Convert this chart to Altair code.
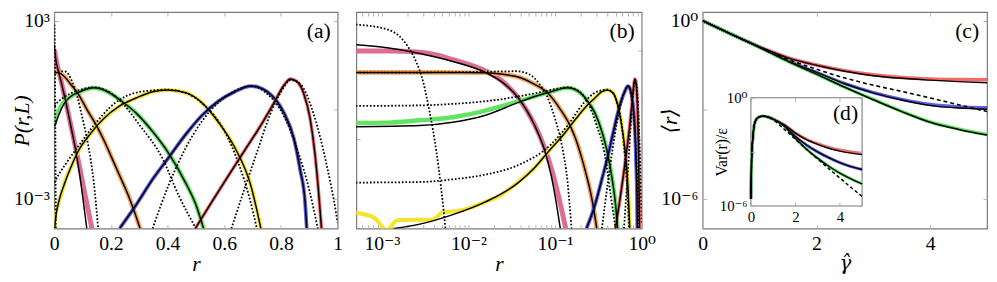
import altair as alt
import pandas as pd

FONT = "Liberation Serif, DejaVu Serif, serif"
GFONT = "DejaVu Serif, Liberation Serif, serif"
W_A, W_B, W_C, H = 288, 290, 289, 220
TICK_COLOR = "#b0b0b0"
FRAME_COLOR = "#7a7a7a"

CURVES = ["pink", "orange", "green", "yellow", "blue", "red"]
COLORS = ["#dd6d94", "#f6a65f", "#62e462", "#f3e42e", "#5d5de6", "#f26a6a"]
WIDTHS = [5.0, 3.5, 3.5, 3.5, 3.5, 3.5]

# ---------------- panels (a) and (b): r and log10 P(r,L)
PINK_R = [0.0005, 0.00115, 0.00275, 0.0043, 0.0066, 0.0157, 0.0243, 0.0377, 0.058, 0.076, 0.090, 0.107, 0.133]
PINK_LOG = [1.98, 1.98, 1.94, 1.85, 1.69, 1.31, 0.97, 0.40, -0.50, -1.30, -1.95, -2.78, -4.00]
ORANGE_R = [0.0005, 0.005, 0.015, 0.025, 0.04, 0.058, 0.08, 0.116, 0.15, 0.174, 0.2, 0.231, 0.26, 0.278, 0.303]
ORANGE_LOG = [1.26, 1.26, 1.25, 1.20, 1.08, 0.86, 0.60, 0.00, -0.55, -1.00, -1.55, -2.22, -2.85, -3.30, -4.00]
GREEN_R = [0.0005, 0.00115, 0.00275, 0.0066, 0.0157, 0.0243, 0.0377, 0.058, 0.09, 0.139, 0.19, 0.231, 0.29, 0.347, 0.405, 0.463, 0.5, 0.527]
GREEN_LOG = [-0.44, -0.43, -0.35, -0.25, -0.03, 0.13, 0.29, 0.45, 0.61, 0.74, 0.60, 0.34, -0.12, -0.73, -1.48, -2.45, -3.20, -4.00]
YELLOW_R = [0.0005, 0.00081, 0.00115, 0.0015, 0.0039, 0.0051, 0.0066, 0.0086, 0.0157, 0.0243, 0.0377, 0.058, 0.09, 0.116, 0.174, 0.231, 0.289, 0.347, 0.399, 0.463, 0.521, 0.579, 0.637, 0.694, 0.729]
YELLOW_LOG = [-3.47, -3.63, -4.05, -3.72, -3.69, -3.44, -3.42, -3.37, -3.10, -2.85, -2.42, -1.95, -1.30, -0.95, -0.30, 0.13, 0.40, 0.61, 0.67, 0.58, 0.24, -0.41, -1.27, -2.56, -3.99]
BLUE_R = [0.231, 0.289, 0.347, 0.405, 0.463, 0.521, 0.579, 0.637, 0.694, 0.718, 0.752, 0.810, 0.845, 0.868, 0.885, 0.891]
BLUE_LOG = [-3.99, -3.20, -2.34, -1.59, -0.84, -0.19, 0.29, 0.61, 0.80, 0.77, 0.61, -0.09, -0.95, -2.03, -3.10, -3.99]
RED_R = [0.498, 0.556, 0.613, 0.671, 0.729, 0.775, 0.810, 0.833, 0.856, 0.880, 0.903, 0.920, 0.932, 0.943]
RED_LOG = [-3.99, -3.10, -2.24, -1.38, -0.52, 0.23, 0.82, 1.04, 0.96, 0.56, -0.30, -1.48, -2.67, -3.99]

# black solid (theory) where it departs from the coloured data
PINK_FIT_R = [0.0005, 0.00115, 0.00275, 0.0066, 0.0157, 0.0243, 0.0377, 0.058, 0.076, 0.090, 0.100, 0.115]
PINK_FIT_LOG = [2.19, 2.09, 1.90, 1.63, 1.26, 0.94, 0.40, -0.52, -1.38, -2.20, -2.90, -4.00]
GREEN_FIT_R = [0.0005, 0.00275, 0.0066, 0.0157, 0.0377, 0.058, 0.09, 0.139, 0.19, 0.231, 0.29, 0.347, 0.405, 0.463, 0.5, 0.527]
GREEN_FIT_LOG = [-0.57, -0.53, -0.42, -0.18, 0.25, 0.45, 0.61, 0.74, 0.60, 0.34, -0.12, -0.73, -1.48, -2.45, -3.20, -4.00]
YELLOW_FIT_R = [0.00137, 0.00275, 0.0066, 0.0157, 0.0377, 0.058, 0.09, 0.116, 0.174, 0.231, 0.289, 0.347, 0.399, 0.463, 0.521, 0.579, 0.637, 0.694, 0.729]
YELLOW_FIT_LOG = [-4.0, -3.85, -3.53, -3.10, -2.45, -1.95, -1.30, -0.95, -0.30, 0.13, 0.40, 0.61, 0.67, 0.58, 0.24, -0.41, -1.27, -2.56, -3.99]

# black dotted approximations
DOT_PINK_R = [0.0005, 0.00115, 0.00178, 0.00212, 0.00252, 0.0030, 0.00357, 0.00425, 0.00485, 0.00543]
DOT_PINK_LOG = [2.87, 2.71, 2.33, 2.01, 1.58, 0.94, -0.09, -1.38, -2.67, -3.99]
DOT_ORANGE_R = [0.0005, 0.005, 0.02, 0.035, 0.05, 0.065, 0.081, 0.1, 0.12, 0.139, 0.155]
DOT_ORANGE_LOG = [1.25, 1.26, 1.29, 1.30, 1.20, 0.90, 0.45, -0.30, -1.20, -2.40, -4.00]
DOT_GREEN_R = [0.0005, 0.0028, 0.0066, 0.0157, 0.0377, 0.064, 0.1, 0.14, 0.19, 0.243, 0.3, 0.38, 0.44, 0.5]
DOT_GREEN_LOG = [0.13, 0.15, 0.20, 0.29, 0.45, 0.58, 0.70, 0.76, 0.62, 0.20, -0.50, -1.60, -2.90, -4.00]
DOT_YELLOW_R = [0.0005, 0.0028, 0.0066, 0.0157, 0.0377, 0.09, 0.14, 0.216, 0.3, 0.4, 0.47, 0.53, 0.6, 0.65, 0.69, 0.715]
DOT_YELLOW_LOG = [-2.45, -2.43, -2.34, -2.18, -1.86, -1.16, -0.52, 0.24, 0.60, 0.68, 0.55, 0.15, -0.70, -1.80, -3.00, -4.00]
DOT_BLUE_R = [0.347, 0.405, 0.463, 0.52, 0.58, 0.64, 0.694, 0.75, 0.81, 0.86, 0.9, 0.93]
DOT_BLUE_LOG = [-4.0, -2.5, -1.3, -0.4, 0.25, 0.65, 0.80, 0.55, -0.2, -1.4, -2.7, -4.0]
DOT_RED_R = [0.625, 0.67, 0.72, 0.76, 0.8, 0.835, 0.87, 0.914, 0.96, 0.995, 1.0]
DOT_RED_LOG = [-4.0, -2.7, -1.3, -0.2, 0.6, 1.0, 0.85, -0.1, -1.8, -3.5, -3.8]

# ---------------- panel (c): <r> vs gamma-hat (log10 values)
GAMMA = [0, 0.5, 1, 1.5, 2, 2.5, 3, 3.5, 4, 4.5, 5]
MEAN_RED_LOG = [0, -0.45, -0.88, -1.24, -1.49, -1.68, -1.82, -1.91, -1.96, -1.98, -1.99]
MEAN_RED_FIT_LOG = [0, -0.45, -0.88, -1.25, -1.50, -1.70, -1.85, -1.94, -2.00, -2.05, -2.09]
MEAN_BLUE_LOG = [0, -0.45, -0.89, -1.35, -1.74, -2.12, -2.42, -2.65, -2.82, -2.90, -2.93]
MEAN_BLUE_FIT_LOG = [0, -0.45, -0.89, -1.35, -1.74, -2.12, -2.43, -2.67, -2.85, -2.94, -2.98]
MEAN_GREEN_LOG = [0, -0.45, -0.90, -1.37, -1.80, -2.24, -2.65, -3.05, -3.41, -3.64, -3.83]
MEAN_GREEN_FIT_LOG = [0, -0.45, -0.90, -1.37, -1.80, -2.24, -2.66, -3.06, -3.42, -3.66, -3.85]
MEAN_DASH_LOG = [0, -0.45, -0.89, -1.30, -1.63, -1.93, -2.17, -2.38, -2.60, -2.83, -3.06]

# ---------------- inset (d): Var(r)/eps vs gamma-hat (log10 values)
VAR_GAMMA = [0, 0.03, 0.1, 0.18, 0.33, 0.55, 0.8, 1.0, 1.5, 2.0, 2.5, 3.0, 3.5, 4.0, 4.5, 5.0]
VAR_RED_LOG = [-5.6, -3.5, -2.06, -1.36, -1.09, -1.02, -1.08, -1.18, -1.50, -1.95, -2.30, -2.55, -2.75, -2.90, -3.00, -3.08]
VAR_RED_FIT_LOG = [-5.6, -3.5, -2.06, -1.36, -1.09, -1.02, -1.08, -1.18, -1.50, -1.96, -2.32, -2.58, -2.80, -2.96, -3.07, -3.15]
VAR_BLUE_LOG = [-5.6, -3.5, -2.06, -1.36, -1.09, -1.02, -1.08, -1.18, -1.55, -2.15, -2.62, -3.00, -3.32, -3.60, -3.82, -3.98]
VAR_GREEN_LOG = [-5.6, -3.5, -2.06, -1.36, -1.09, -1.02, -1.08, -1.19, -1.58, -2.25, -2.85, -3.35, -3.80, -4.18, -4.50, -4.78]
VAR_DASH_LOG = [-5.6, -3.5, -2.06, -1.36, -1.09, -1.02, -1.08, -1.22, -1.75, -2.30, -2.85, -3.40, -3.93, -4.45, -4.97, -5.47]


def long(items):
    rows = []
    for name, xs, logs in items:
        for x, v in zip(xs, logs):
            rows.append({"curve": name, "x": x, "v": 10.0 ** v})
    return pd.DataFrame(rows)


df_col = long([("pink", PINK_R, PINK_LOG), ("orange", ORANGE_R, ORANGE_LOG),
               ("green", GREEN_R, GREEN_LOG), ("yellow", YELLOW_R, YELLOW_LOG),
               ("blue", BLUE_R, BLUE_LOG), ("red", RED_R, RED_LOG)])
df_fit = long([("pink", PINK_FIT_R, PINK_FIT_LOG), ("orange", ORANGE_R, ORANGE_LOG),
               ("green", GREEN_FIT_R, GREEN_FIT_LOG), ("yellow", YELLOW_FIT_R, YELLOW_FIT_LOG),
               ("blue", BLUE_R, BLUE_LOG), ("red", RED_R, RED_LOG)])
df_dot = long([("pink", DOT_PINK_R, DOT_PINK_LOG), ("orange", DOT_ORANGE_R, DOT_ORANGE_LOG),
               ("green", DOT_GREEN_R, DOT_GREEN_LOG), ("yellow", DOT_YELLOW_R, DOT_YELLOW_LOG),
               ("blue", DOT_BLUE_R, DOT_BLUE_LOG), ("red", DOT_RED_R, DOT_RED_LOG)])

df_c_col = long([("red", GAMMA, MEAN_RED_LOG), ("blue", GAMMA, MEAN_BLUE_LOG), ("green", GAMMA, MEAN_GREEN_LOG)])
df_c_fit = long([("red", GAMMA, MEAN_RED_FIT_LOG), ("blue", GAMMA, MEAN_BLUE_FIT_LOG), ("green", GAMMA, MEAN_GREEN_FIT_LOG)])
df_c_dash = long([("dash", GAMMA, MEAN_DASH_LOG)])
df_d_col = long([("red", VAR_GAMMA, VAR_RED_LOG), ("blue", VAR_GAMMA, VAR_BLUE_LOG), ("green", VAR_GAMMA, VAR_GREEN_LOG)])
df_d_fit = long([("red", VAR_GAMMA, VAR_RED_FIT_LOG), ("blue", VAR_GAMMA, VAR_BLUE_LOG), ("green", VAR_GAMMA, VAR_GREEN_LOG)])
df_d_dash = long([("dash", VAR_GAMMA, VAR_DASH_LOG)])
df_box = pd.DataFrame({"x0": [0.0], "x1": [5.0], "y0": [1e-6], "y1": [1.0]})

color_scale = alt.Scale(domain=CURVES, range=COLORS)
width_scale = alt.Scale(domain=CURVES, range=WIDTHS)


def label_axis(orient, values, title=None, expr=None, fmt=None, size=20, pad=5,
               offset=0, title_x=None, tpad=1, tsize=22, tstyle="italic", tfont=FONT, z=0):
    kw = dict(orient=orient, values=values, ticks=False, domain=False, grid=False,
              labelFont=FONT, labelFontSize=size, labelColor="black", labelPadding=pad,
              labelFlush=False, labelOverlap=False, minExtent=0, offset=offset, zindex=z)
    if expr is not None:
        kw["labelExpr"] = expr
    if fmt is not None:
        kw["format"] = fmt
    if title is None:
        kw["title"] = None
    else:
        kw.update(title=title, titleFont=tfont, titleFontSize=tsize, titleFontStyle=tstyle,
                  titleFontWeight="normal", titleColor="black", titlePadding=tpad)
        if title_x is not None:
            kw["titleX"] = title_x
    return alt.Axis(**kw)


def tick_axis(orient, values, offset, size=4, z=0):
    return alt.Axis(orient=orient, values=values, labels=False, domain=False, grid=False,
                    ticks=True, tickSize=size, tickWidth=1, tickColor=TICK_COLOR,
                    offset=offset, title=None, minExtent=0, zindex=z)


def tag(label, x, y, size=22):
    return alt.Chart(pd.DataFrame({"t": [label]})).mark_text(
        font=FONT, fontSize=size, align="right", baseline="middle", color="black"
    ).encode(text="t:N", x=alt.value(x), y=alt.value(y))


def panel_ab(xscale, xlab, xticks, ylab, yticks, W, name):
    ysc = alt.Scale(type="log", domain=[1e-4, 10 ** 3.29], nice=False)
    colored = alt.Chart(df_col).mark_line(interpolate="monotone", clip=True).encode(
        x=alt.X("x:Q", scale=xscale, axis=xlab),
        y=alt.Y("v:Q", scale=ysc, axis=ylab),
        color=alt.Color("curve:N", scale=color_scale, legend=None),
        strokeWidth=alt.StrokeWidth("curve:N", scale=width_scale, legend=None),
    )
    black = alt.Chart(df_fit).mark_line(interpolate="monotone", clip=True, color="black", strokeWidth=1.5).encode(
        x=alt.X("x:Q", scale=xscale, axis=tick_axis("bottom", xticks, -4)),
        y=alt.Y("v:Q", scale=ysc, axis=tick_axis("left", yticks, -4)),
        detail="curve:N",
    )
    dotted = alt.Chart(df_dot).mark_line(interpolate="monotone", clip=True, color="black",
                                         strokeWidth=1.8, strokeDash=[1.7, 1.9]).encode(
        x=alt.X("x:Q", scale=xscale, axis=tick_axis("top", xticks, -4)),
        y=alt.Y("v:Q", scale=ysc, axis=tick_axis("right", yticks, -4)),
        detail="curve:N",
    )
    return alt.layer(colored, black, dotted, tag(name, W - 7, 19)).resolve_axis(
        x="independent", y="independent").properties(width=W, height=H)


# ---- panel (a)
xa = alt.Scale(domain=[0, 1], nice=False)
A_TICKS = [0, 0.2, 0.4, 0.6, 0.8, 1]
pa = panel_ab(
    xa,
    label_axis("bottom", A_TICKS, title="r", fmt="~g"),
    A_TICKS,
    label_axis("left", [1e-3, 1, 1e3], title="P(r,L)", title_x=-21,
               expr="datum.value > 10 ? '10³' : (datum.value < 0.01 ? '10⁻³' : '')"),
    [1e-3, 1, 1e3], W_A, "(a)")

# ---- panel (b)
xb = alt.Scale(type="log", domain=[10 ** -3.295, 1], nice=False)
B_MINOR = [m * 10.0 ** e for e in (-4, -3, -2, -1) for m in range(1, 10) if m * 10.0 ** e >= 10 ** -3.295] + [1.0]
pb = panel_ab(
    xb,
    label_axis("bottom", [1e-3, 1e-2, 1e-1, 1], title="r",
               expr="datum.value < 0.005 ? '10⁻³' : (datum.value < 0.05 ? '10⁻²' : (datum.value < 0.5 ? '10⁻¹' : '10⁰'))"),
    B_MINOR,
    None,
    [0.1, 100], W_B, "(b)")

# ---- panel (c) with inset (d)
xc = alt.Scale(domain=[0, 5], nice=False)
yc = alt.Scale(type="log", domain=[1e-7, 10 ** 0.29], nice=False)
C_X = [0, 2, 4]
C_Y = [1e-6, 1e-3, 1]
Y_EXPR = "datum.value > 0.1 ? '10⁰' : (datum.value < 1e-5 ? '10⁻⁶' : '')"

c_col = alt.Chart(df_c_col).mark_line(interpolate="monotone", clip=True, strokeWidth=3.5).encode(
    x=alt.X("x:Q", scale=xc, axis=label_axis("bottom", C_X, title="γ̂", tfont=GFONT, tsize=20)),
    y=alt.Y("v:Q", scale=yc, axis=label_axis("left", C_Y, title="⟨r⟩", title_x=-22, expr=Y_EXPR)),
    color=alt.Color("curve:N", scale=color_scale, legend=None),
)
c_fit = alt.Chart(df_c_fit).mark_line(interpolate="monotone", clip=True, color="black", strokeWidth=1.5).encode(
    x=alt.X("x:Q", scale=xc, axis=tick_axis("bottom", C_X, -4)),
    y=alt.Y("v:Q", scale=yc, axis=tick_axis("left", C_Y, -4)),
    detail="curve:N",
)
c_dash = alt.Chart(df_c_dash).mark_line(interpolate="monotone", clip=True, color="black",
                                        strokeWidth=1.6, strokeDash=[4, 3]).encode(
    x=alt.X("x:Q", scale=xc, axis=tick_axis("top", C_X, -4)),
    y=alt.Y("v:Q", scale=yc, axis=tick_axis("right", C_Y, -4)),
)
main_c = alt.layer(c_col, c_fit, c_dash).resolve_axis(x="independent", y="independent")

IL, IR, IT, IB = 49, 162, 87, 197
xd = alt.Scale(domain=[0, 5], range=[IL, IR], nice=False)
yd = alt.Scale(type="log", domain=[1e-6, 1], range=[IB, IT], nice=False)
d_box = alt.Chart(df_box).mark_rect(fill="white", stroke=FRAME_COLOR, strokeWidth=1.1).encode(
    x=alt.X("x0:Q", scale=xd, axis=label_axis("bottom", C_X, size=15, pad=4, offset=IB - H, z=1)),
    x2="x1:Q",
    y=alt.Y("y0:Q", scale=yd, axis=label_axis("left", C_Y, title="Var(r)/ε", title_x=-22, expr=Y_EXPR,
                                             size=15, pad=4, offset=-IL, tsize=16, tstyle="normal", z=1)),
    y2="y1:Q",
)
d_col = alt.Chart(df_d_col).mark_line(interpolate="monotone", strokeWidth=3).encode(
    x=alt.X("x:Q", scale=xd, axis=tick_axis("bottom", C_X, IB - 4 - H, z=1)),
    y=alt.Y("v:Q", scale=yd, axis=tick_axis("left", C_Y, -(IL + 4), z=1)),
    color=alt.Color("curve:N", scale=color_scale, legend=None),
)
d_fit = alt.Chart(df_d_fit).mark_line(interpolate="monotone", color="black", strokeWidth=1.4).encode(
    x=alt.X("x:Q", scale=xd, axis=tick_axis("top", C_X, -(IT + 4), z=1)),
    y=alt.Y("v:Q", scale=yd, axis=tick_axis("right", C_Y, IR - 4 - W_C, z=1)),
    detail="curve:N",
)
d_dash = alt.Chart(df_d_dash).mark_line(interpolate="monotone", color="black",
                                        strokeWidth=1.5, strokeDash=[3.5, 2.5]).encode(
    x=alt.X("x:Q", scale=xd, axis=None),
    y=alt.Y("v:Q", scale=yd, axis=None),
)
inset_d = alt.layer(d_box, d_col, d_fit, d_dash).resolve_axis(x="independent", y="independent")

pc = alt.layer(main_c, inset_d, tag("(c)", W_C - 8, 19), tag("(d)", IR - 4, 103)).resolve_scale(
    x="independent", y="independent").properties(width=W_C, height=H)

chart = alt.hconcat(alt.hconcat(pa, pb, spacing=11), pc, spacing=1).properties(
    padding={"left": 2, "top": 0, "right": 0, "bottom": 0}, background="white"
).configure_view(stroke=FRAME_COLOR, strokeWidth=1.2)

chart.save("out.html", embed_options={"renderer": "svg", "actions": False})
